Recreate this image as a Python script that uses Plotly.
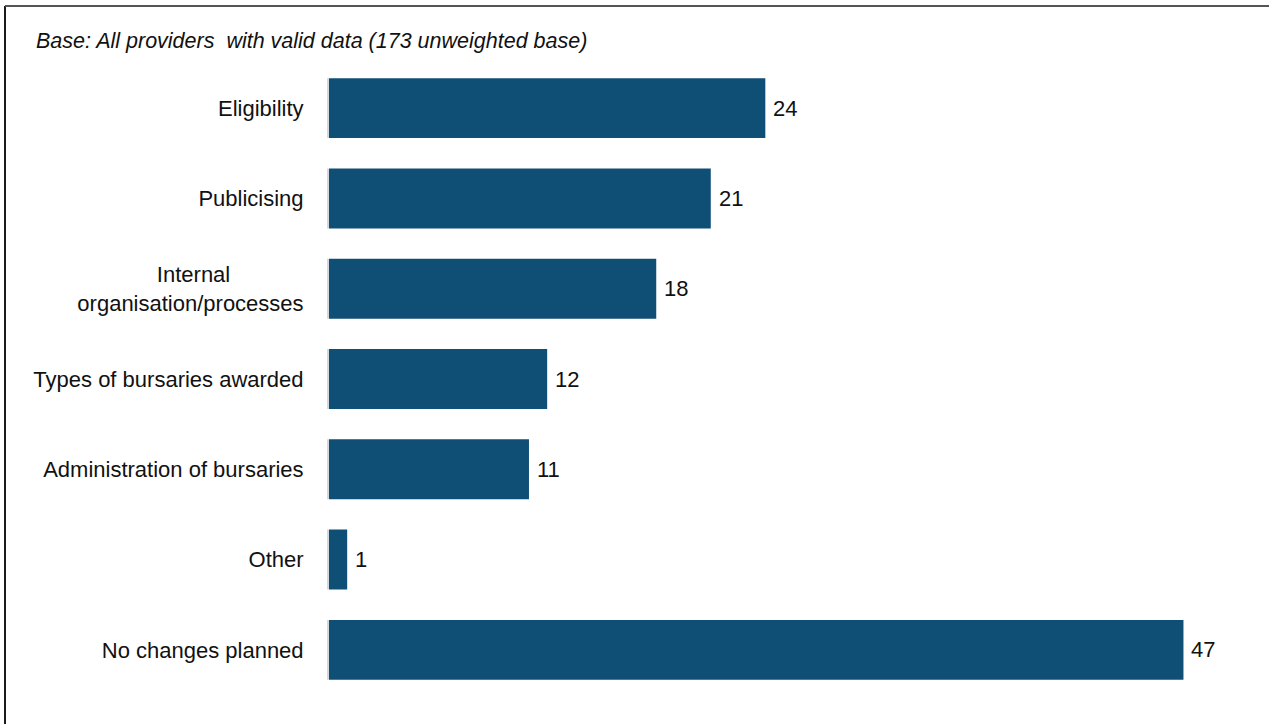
import plotly.graph_objects as go

categories = [
    "Eligibility",
    "Publicising",
    "Internal" + "\u00a0" * 12 + "<br>organisation/processes",
    "Types of bursaries awarded",
    "Administration of bursaries",
    "Other",
    "No changes planned",
]
values = [24, 21, 18, 12, 11, 1, 47]
base_note = "Base: All providers\u00a0 with valid data (173 unweighted base)"

BAR = "#104F75"
FONT = "Liberation Sans, Arial, sans-serif"

fig = go.Figure()
# thin light edge at the left of each bar
fig.add_trace(go.Bar(
    y=categories, x=[0.11] * len(values), base=[-0.11] * len(values),
    orientation="h", marker=dict(color="#D3D8DD", line=dict(width=0)),
    hoverinfo="skip", showlegend=False,
))
fig.add_trace(go.Bar(
    y=categories, x=values, orientation="h",
    marker=dict(color=BAR, line=dict(width=0)),
    hoverinfo="skip", showlegend=False,
))

for c, v in zip(categories, values):
    fig.add_annotation(x=v, y=c, text=str(v), showarrow=False,
                       xanchor="left", yanchor="middle", xshift=6,
                       font=dict(family=FONT, size=22, color="#111111"))

W, H = 1269, 724
L, R, T, B = 327, 31, 63, 29
pw = W - L - R
ph = H - T - B

def px(x):
    return (x - L) / pw

def py(y):
    return (H - B - y) / ph

fig.add_shape(type="line", xref="paper", yref="paper",
              x0=px(5), x1=px(5), y0=py(6), y1=py(H + 5),
              line=dict(color="#1a1a1a", width=2))
fig.add_shape(type="line", xref="paper", yref="paper",
              x0=px(5), x1=px(W + 5), y0=py(6), y1=py(6),
              line=dict(color="#555555", width=2))

fig.update_layout(
    width=W, height=H,
    margin=dict(l=L, r=R, t=T, b=B, pad=0),
    paper_bgcolor="white", plot_bgcolor="white",
    barmode="overlay", bargap=0.336,
    font=dict(family=FONT, size=22, color="#111111"),
    title=dict(text=base_note, xref="container", yref="container",
               x=36 / W, y=1 - 40 / H, xanchor="left", yanchor="middle",
               font=dict(family=FONT, size=21.5, color="#111111", style="italic")),
    xaxis=dict(range=[-0.11, 50], visible=False, showgrid=False, zeroline=False),
    yaxis=dict(autorange="reversed", showgrid=False, zeroline=False,
               showline=False, ticks="outside", ticklen=18,
               tickcolor="rgba(0,0,0,0)",
               tickfont=dict(family=FONT, size=22, color="#111111")),
)

fig.write_html("out.html",
               config={"displayModeBar": False},
               post_script="document.body.style.margin='0px';document.body.style.padding='0px';")
